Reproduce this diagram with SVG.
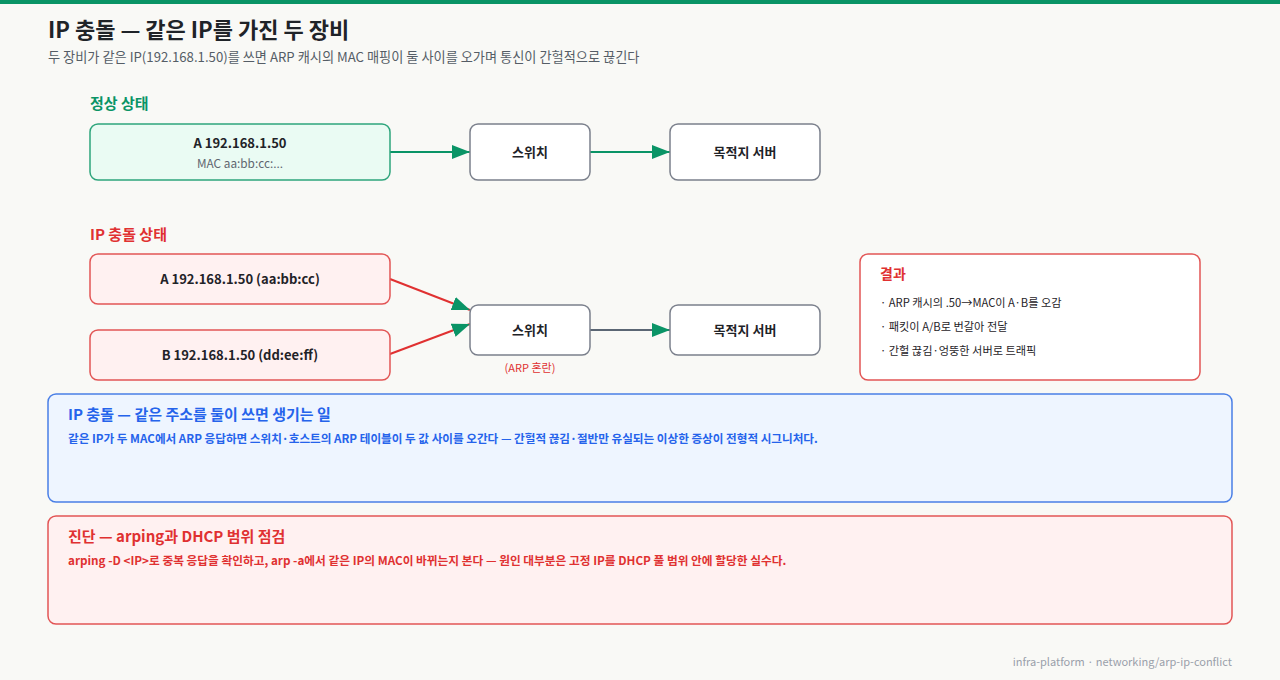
<svg xmlns="http://www.w3.org/2000/svg" width="1280" height="680" viewBox="0 0 1280 680">
<defs>
<style>
text{font-family:"Noto Sans CJK KR","Noto Sans",sans-serif;}
.node{fill:#ffffff;stroke:#7b808c;stroke-width:1.5;}
.ok{fill:#eafbf3;stroke:#2ea57c;stroke-width:1.5;}
.bad{fill:#fff1f1;stroke:#e25555;stroke-width:1.5;}
.lbl{font-size:13px;font-weight:700;fill:#1f2328;text-anchor:middle;}
.sub{font-size:11.8px;fill:#5f6670;text-anchor:middle;}
.item{font-size:11.2px;fill:#1f2328;}
</style>
<marker id="ahl" viewBox="0 0 10 10" refX="10" refY="5" markerWidth="18" markerHeight="14" markerUnits="userSpaceOnUse" orient="auto" preserveAspectRatio="none"><path d="M0,0 L10,5 L0,10 z" fill="#0a9466"/></marker>
</defs>
<rect width="1280" height="680" fill="#f9f9f6"/>
<rect width="1280" height="4" fill="#0a9466"/>
<text x="48" y="38" font-size="22" font-weight="700" fill="#1f2328">IP 충돌 — 같은 IP를 가진 두 장비</text>
<text x="48" y="62" font-size="13.2" fill="#555d66">두 장비가 같은 IP(192.168.1.50)를 쓰면 ARP 캐시의 MAC 매핑이 둘 사이를 오가며 통신이 간헐적으로 끊긴다</text>

<text x="90" y="109" font-size="15" font-weight="700" fill="#0a9466">정상 상태</text>
<text x="90" y="240" font-size="15" font-weight="700" fill="#e03131">IP 충돌 상태</text>

<g id="connectors">
<line x1="390" y1="152" x2="470" y2="152" stroke="#0a9466" stroke-width="2" marker-end="url(#ahl)"/>
<line x1="590" y1="152" x2="670" y2="152" stroke="#0a9466" stroke-width="2" marker-end="url(#ahl)"/>
<line x1="390" y1="279" x2="470" y2="310" stroke="#e03131" stroke-width="2" marker-end="url(#ahl)"/>
<line x1="390" y1="354" x2="470" y2="324" stroke="#e03131" stroke-width="2" marker-end="url(#ahl)"/>
<line x1="590" y1="330" x2="670" y2="330" stroke="#5b6674" stroke-width="2" marker-end="url(#ahl)"/>
</g>

<g id="n-a-ok"><rect x="90" y="124" width="300" height="56" rx="8" class="ok"/><text x="240" y="148" class="lbl">A 192.168.1.50</text><text x="240" y="168" class="sub">MAC aa:bb:cc:...</text></g>
<g id="n-sw-ok"><rect x="470" y="124" width="120" height="56" rx="8" class="node"/><text x="530" y="157" class="lbl">스위치</text></g>
<g id="n-srv-ok"><rect x="670" y="124" width="150" height="56" rx="8" class="node"/><text x="745" y="157" class="lbl">목적지 서버</text></g>

<g id="n-a-bad"><rect x="90" y="254" width="300" height="50" rx="8" class="bad"/><text x="240" y="284" class="lbl">A 192.168.1.50 (aa:bb:cc)</text></g>
<g id="n-b-bad"><rect x="90" y="330" width="300" height="50" rx="8" class="bad"/><text x="240" y="360" class="lbl">B 192.168.1.50 (dd:ee:ff)</text></g>
<g id="n-sw-bad"><rect x="470" y="305" width="120" height="50" rx="8" class="node"/><text x="530" y="335" class="lbl">스위치</text><text x="530" y="372" font-size="11" fill="#e03131" text-anchor="middle">(ARP 혼란)</text></g>
<g id="n-srv-bad"><rect x="670" y="305" width="150" height="50" rx="8" class="node"/><text x="745" y="335" class="lbl">목적지 서버</text></g>

<g id="n-result"><rect x="860" y="254" width="340" height="126" rx="8" fill="#ffffff" stroke="#e25555" stroke-width="1.5"/>
<text x="880" y="279" font-size="14" font-weight="700" fill="#e03131">결과</text>
<text x="880" y="307" class="item">· ARP 캐시의 .50→MAC이 A·B를 오감</text>
<text x="880" y="331" class="item">· 패킷이 A/B로 번갈아 전달</text>
<text x="880" y="355" class="item">· 간헐 끊김·엉뚱한 서버로 트래픽</text>
</g>

<g id="n-info"><rect x="48" y="394" width="1184" height="108" rx="8" fill="#eef5ff" stroke="#4a7fe6" stroke-width="1.5"/>
<text x="68" y="420" font-size="15" font-weight="700" fill="#2563eb">IP 충돌 — 같은 주소를 둘이 쓰면 생기는 일</text>
<text x="68" y="443" font-size="11.6" font-weight="700" fill="#2563eb">같은 IP가 두 MAC에서 ARP 응답하면 스위치·호스트의 ARP 테이블이 두 값 사이를 오간다 — 간헐적 끊김·절반만 유실되는 이상한 증상이 전형적 시그니처다.</text>
</g>

<g id="n-diag"><rect x="48" y="516" width="1184" height="108" rx="8" fill="#fff1f1" stroke="#e25555" stroke-width="1.5"/>
<text x="68" y="542" font-size="15" font-weight="700" fill="#e03131">진단 — arping과 DHCP 범위 점검</text>
<text x="68" y="565" font-size="11.7" font-weight="700" fill="#e03131">arping -D &lt;IP&gt;로 중복 응답을 확인하고, arp -a에서 같은 IP의 MAC이 바뀌는지 본다 — 원인 대부분은 고정 IP를 DHCP 풀 범위 안에 할당한 실수다.</text>
</g>

<text x="1232" y="666" font-size="11" fill="#9aa0aa" text-anchor="end">infra-platform · networking/arp-ip-conflict</text>
</svg>
